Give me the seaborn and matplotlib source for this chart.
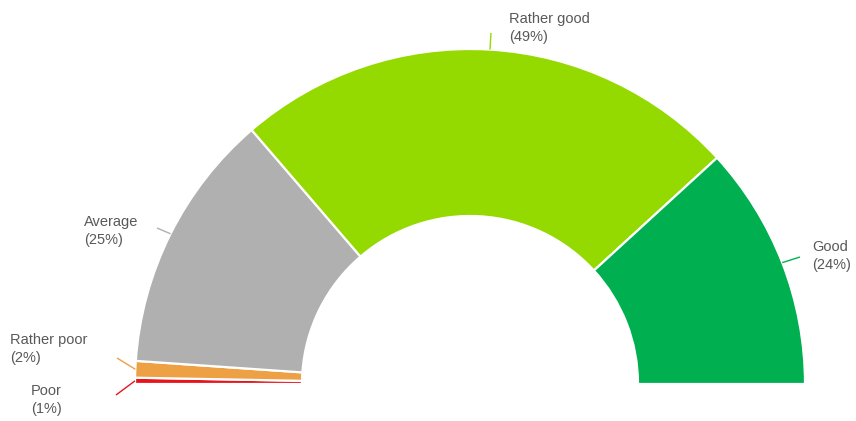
import numpy as np
import seaborn as sns
import matplotlib
matplotlib.use('Agg')
import matplotlib.pyplot as plt

# Dados (percentuais)
categorias = ['Poor', 'Rather poor', 'Average', 'Rather good', 'Good']
valores = [0.6, 1.6, 25.2, 49.0, 23.6]
rotulos_pct = ['1%', '2%', '25%', '49%', '24%']
cores = ['#e8141c', '#eda044', '#b0b0b0', '#94d900', '#00b050']

sns.set_theme(style='white')
plt.rcParams['font.family'] = ['Liberation Sans', 'DejaVu Sans']

fig = plt.figure(figsize=(8.56, 4.21), dpi=100, facecolor='white')
ax = fig.add_axes([0, 0, 1, 1])

# Centro e raios em pixels (eixo y para cima)
cx, cy = 470, 421 - 384
r_ext, largura = 335, 167

# meia rosca: fatia invisível com o total
vals = valores + [sum(valores)]
cols = cores + ['none']
wedges, _ = ax.pie(vals, colors=cols, startangle=180, counterclock=False,
                   center=(cx, cy), radius=r_ext,
                   wedgeprops=dict(width=largura, edgecolor='white', linewidth=1.6,
                                   joinstyle='round'))
wedges[-1].set_edgecolor('none')

# Posições das linhas-guia e dos textos (pixels a partir do topo)
fim_linha = {'Poor': (116, 395), 'Rather poor': (117, 358), 'Average': (157, 228),
             'Rather good': (491, 33), 'Good': (800, 257)}
pos_texto = {'Poor': (31, 400), 'Rather poor': (10, 349), 'Average': (84, 231),
             'Rather good': (509, 28), 'Good': (812, 256)}

for w, cat, pct, cor in zip(wedges[:-1], categorias, rotulos_pct, cores):
    ang = np.deg2rad((w.theta1 + w.theta2) / 2)
    x0 = cx + r_ext * np.cos(ang)
    y0 = cy + r_ext * np.sin(ang)
    x1, y1 = fim_linha[cat]
    ax.plot([x0, x1], [y0, 421 - y1], color=cor, lw=1, solid_capstyle='butt')
    tx, ty = pos_texto[cat]
    ax.text(tx, 421 - ty, f'{cat}\n({pct})', ha='left', va='center',
            fontsize=10.5, color='#595959', linespacing=1.4)

ax.set_xlim(0, 856)
ax.set_ylim(0, 421)
ax.set_aspect('auto')
ax.axis('off')

plt.savefig('out.png', dpi=100, facecolor='white')
plt.close()
